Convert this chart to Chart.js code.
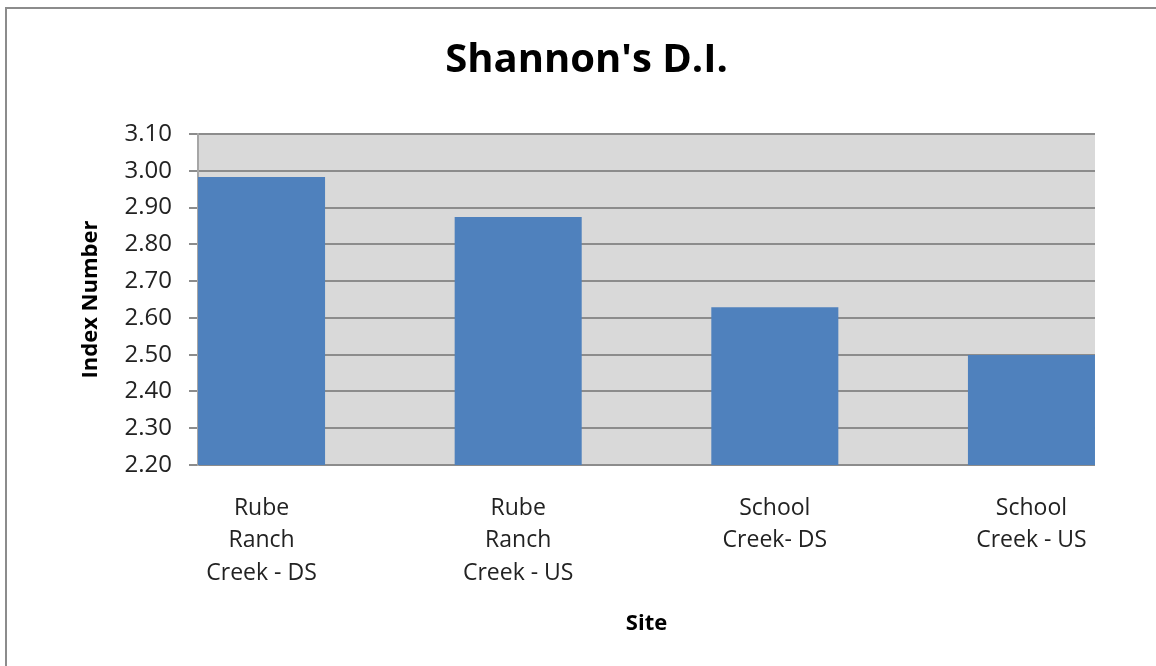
<!DOCTYPE html>
<html>
<head>
<meta charset="utf-8">
<script src="https://cdn.jsdelivr.net/npm/chart.js@4"></script>
<style>
  html, body { margin: 0; padding: 0; background: #fff; overflow: hidden; }
  #wrap { position: relative; width: 1156px; height: 666px; }
  #frame { position: absolute; left: 5px; top: 7px; width: 1200px; height: 700px; border: 2px solid #8c8c8c; box-sizing: border-box; }
  canvas { position: absolute; left: 0; top: 0; }
</style>
</head>
<body>
<div id="wrap">
  <div id="frame"></div>
  <canvas id="chart" width="1156" height="666"></canvas>
</div>
<script>
// Daten
const sites = [
  ['Rube', 'Ranch', 'Creek - DS'],
  ['Rube', 'Ranch', 'Creek - US'],
  ['School', 'Creek- DS'],
  ['School', 'Creek - US']
];
const indexValues = [2.983, 2.874, 2.629, 2.499];
const yMin = 2.2;
const yMax = 3.1;
const yStep = 0.1;

const fontName = 'Open Sans';

// Plotfläche ist rechts abgeschnitten wie im Original
const xMargin = 0.2476;

// Hintergrund der Plotfläche
const plotBackground = {
  id: 'plotBackground',
  beforeDraw(chart) {
    const { ctx, chartArea } = chart;
    ctx.save();
    ctx.fillStyle = '#d9d9d9';
    ctx.fillRect(chartArea.left, chartArea.top, chartArea.right - chartArea.left, chartArea.bottom - chartArea.top);
    ctx.restore();
  }
};

new Chart(document.getElementById('chart'), {
  type: 'bar',
  data: {
    datasets: [{
      label: "Shannon's D.I.",
      data: indexValues.map((v, i) => ({ x: i, y: v })),
      backgroundColor: '#4f81bd',
      borderWidth: 0,
      barPercentage: 0.495,
      categoryPercentage: 1.0
    }]
  },
  plugins: [plotBackground],
  options: {
    responsive: false,
    animation: false,
    layout: { padding: { left: 78, right: 61, top: 0, bottom: 29 } },
    plugins: {
      legend: { display: false },
      tooltip: { enabled: false },
      title: {
        display: true,
        text: "Shannon's D.I.",
        color: '#000',
        font: { family: fontName, size: 40, weight: 'bold', lineHeight: 1.2 },
        padding: { top: 37, bottom: 49 }
      }
    },
    scales: {
      x: {
        type: 'linear',
        offset: false,
        min: -xMargin,
        max: sites.length - 1 + xMargin,
        grid: { display: false, drawTicks: false, offset: false },
        border: { display: false },
        afterBuildTicks(scale) {
          scale.ticks = sites.map((s, i) => ({ value: i }));
        },
        ticks: {
          color: '#222',
          padding: 27,
          maxRotation: 0,
          autoSkip: false,
          font: { family: fontName, size: 23, lineHeight: 1.41 },
          callback: v => sites[v]
        },
        title: {
          display: true,
          text: 'Site',
          color: '#000',
          font: { family: fontName, size: 22, weight: 'bold', lineHeight: 1.2 },
          padding: { top: 0, bottom: 0 }
        },
        afterFit(scale) { scale.height = 172; }
      },
      y: {
        min: yMin,
        max: yMax,
        grid: { color: '#8c8c8c', lineWidth: 2, tickLength: 9 },
        border: { color: '#a6a6a6', width: 2 },
        ticks: {
          stepSize: yStep,
          color: '#222',
          padding: 17,
          font: { family: fontName, size: 24 },
          callback: v => v.toFixed(2)
        },
        title: {
          display: true,
          text: 'Index Number',
          color: '#000',
          font: { family: fontName, size: 22, weight: 'bold', lineHeight: 1.2 },
          padding: { top: 0, bottom: 0 }
        },
        afterFit(scale) { scale.width = 120; }
      }
    }
  }
});
</script>
</body>
</html>
